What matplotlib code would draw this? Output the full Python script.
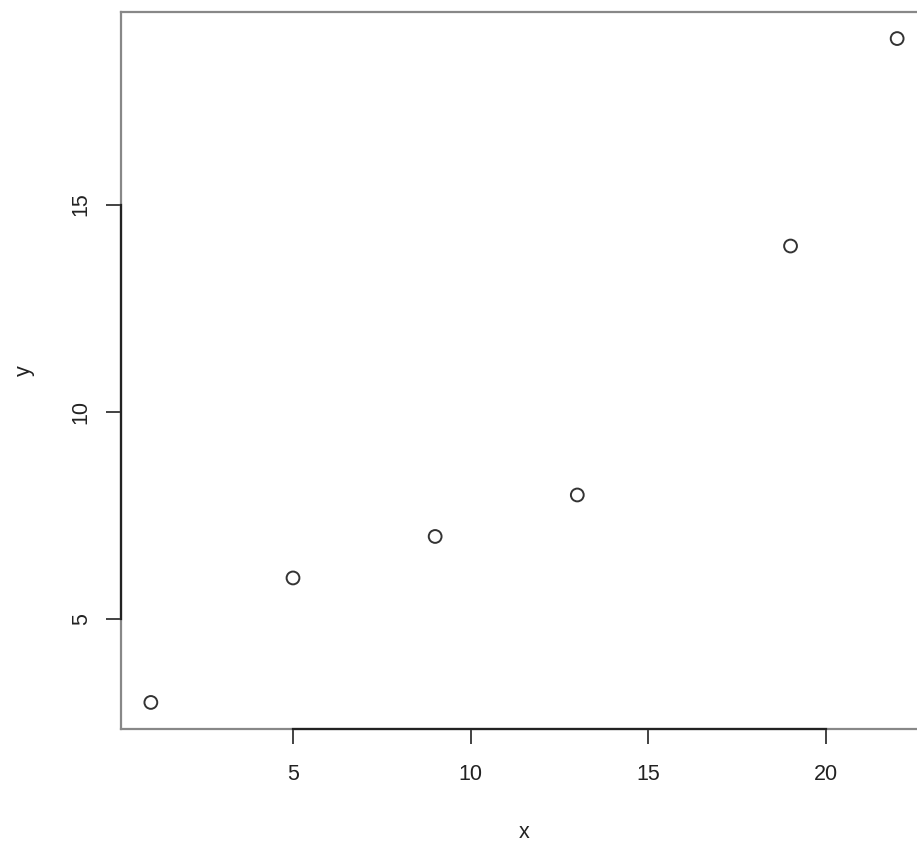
import matplotlib
matplotlib.use("Agg")
import matplotlib.pyplot as plt

x = [1, 5, 9, 13, 19, 22]
y = [3, 6, 7, 8, 14, 19]
xticks = [5, 10, 15, 20]
yticks = [5, 10, 15]

plt.rcParams['font.family'] = ['Liberation Sans', 'DejaVu Sans']

W, H = 917, 843
fig = plt.figure(figsize=(W / 100, H / 100), dpi=100)
left, right, bottom, top = 121, 927, 729, 12
ax = fig.add_axes([left / W, 1 - bottom / H, (right - left) / W, (bottom - top) / H])

ax.scatter(x, y, s=85, facecolors='none', edgecolors='#333333', linewidths=1.4, zorder=3)

xpad = (max(x) - min(x)) * 0.04
ypad = (max(y) - min(y)) * 0.04
ax.set_xlim(min(x) - xpad, max(x) + xpad)
ax.set_ylim(min(y) - ypad, max(y) + ypad)

for s in ax.spines.values():
    s.set_color('#888888')
    s.set_linewidth(1.6)

# R-style axis lines spanning the tick range
ax.plot([xticks[0], xticks[-1]], [ax.get_ylim()[0]] * 2, color='#222222', lw=1.6,
        clip_on=False, zorder=4)
ax.plot([ax.get_xlim()[0]] * 2, [yticks[0], yticks[-1]], color='#222222', lw=1.6,
        clip_on=False, zorder=4)

ax.set_xticks(xticks)
ax.set_yticks(yticks)
ax.set_xticklabels([str(v) for v in xticks])
ax.set_yticklabels([str(v) for v in yticks], rotation=90, va='center')
ax.tick_params(axis='both', length=11, width=1.2, color='#222222', labelsize=15.5,
               labelcolor='#222222')
ax.tick_params(axis='x', pad=14)
ax.tick_params(axis='y', pad=10)

ax.set_xlabel('x', fontsize=15.5, color='#222222', labelpad=27)
ax.set_ylabel('y', fontsize=15.5, color='#222222', labelpad=26)

fig.savefig('out.png', dpi=100, facecolor='white')
